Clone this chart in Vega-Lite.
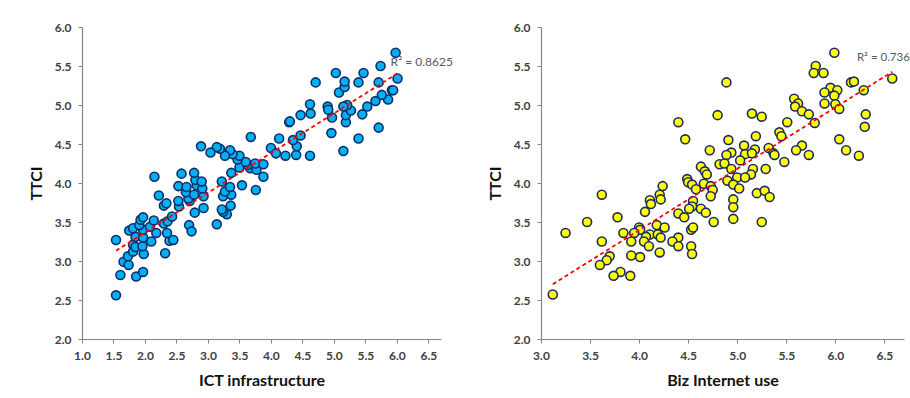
{
  "$schema": "https://vega.github.io/schema/vega-lite/v6.json",
  "padding": {"left": 28, "top": 21, "right": 0, "bottom": 0},
  "background": "white",
  "datasets": {
    "ict": [
      {"ict":1.54,"ttci":2.56},{"ict":1.61,"ttci":2.82},{"ict":1.86,"ttci":2.80},{"ict":1.97,"ttci":2.86},{"ict":1.66,"ttci":2.99},{"ict":1.74,"ttci":2.95},{"ict":1.73,"ttci":3.06},{"ict":1.81,"ttci":3.12},{"ict":1.98,"ttci":3.09},{"ict":2.32,"ttci":3.10},{"ict":1.81,"ttci":3.21},{"ict":1.85,"ttci":3.18},{"ict":1.96,"ttci":3.19},{"ict":1.54,"ttci":3.27},{"ict":2.10,"ttci":3.25},{"ict":2.39,"ttci":3.26},{"ict":2.45,"ttci":3.27},{"ict":1.85,"ttci":3.31},{"ict":1.97,"ttci":3.30},{"ict":1.75,"ttci":3.39},{"ict":1.81,"ttci":3.42},{"ict":1.97,"ttci":3.40},{"ict":2.18,"ttci":3.36},{"ict":2.35,"ttci":3.36},{"ict":1.91,"ttci":3.46},{"ict":2.08,"ttci":3.44},{"ict":1.93,"ttci":3.53},{"ict":1.97,"ttci":3.56},{"ict":2.14,"ttci":3.52},{"ict":2.30,"ttci":3.48},{"ict":2.36,"ttci":3.51},{"ict":2.43,"ttci":3.57},{"ict":2.70,"ttci":3.46},{"ict":2.74,"ttci":3.38},{"ict":3.14,"ttci":3.47},{"ict":3.30,"ttci":3.60},{"ict":3.24,"ttci":3.63},{"ict":2.79,"ttci":3.62},{"ict":3.22,"ttci":3.66},{"ict":2.93,"ttci":3.68},{"ict":3.36,"ttci":3.71},{"ict":2.54,"ttci":3.70},{"ict":2.30,"ttci":3.71},{"ict":2.34,"ttci":3.74},{"ict":2.53,"ttci":3.77},{"ict":2.71,"ttci":3.77},{"ict":2.69,"ttci":3.80},{"ict":2.22,"ttci":3.84},{"ict":2.65,"ttci":3.88},{"ict":2.78,"ttci":3.85},{"ict":2.93,"ttci":3.83},{"ict":3.24,"ttci":3.83},{"ict":3.37,"ttci":3.85},{"ict":3.27,"ttci":3.89},{"ict":3.76,"ttci":3.91},{"ict":2.53,"ttci":3.96},{"ict":2.66,"ttci":3.95},{"ict":2.82,"ttci":3.97},{"ict":2.91,"ttci":3.93},{"ict":3.54,"ttci":3.97},{"ict":3.35,"ttci":3.95},{"ict":2.80,"ttci":4.04},{"ict":2.90,"ttci":4.02},{"ict":3.22,"ttci":4.02},{"ict":2.15,"ttci":4.08},{"ict":2.58,"ttci":4.12},{"ict":2.78,"ttci":4.13},{"ict":3.37,"ttci":4.13},{"ict":3.88,"ttci":4.08},{"ict":3.50,"ttci":4.20},{"ict":3.67,"ttci":4.19},{"ict":3.77,"ttci":4.17},{"ict":3.63,"ttci":4.23},{"ict":3.75,"ttci":4.25},{"ict":3.88,"ttci":4.24},{"ict":3.60,"ttci":4.27},{"ict":3.47,"ttci":4.30},{"ict":3.50,"ttci":4.35},{"ict":3.39,"ttci":4.37},{"ict":3.35,"ttci":4.42},{"ict":3.27,"ttci":4.35},{"ict":3.19,"ttci":4.44},{"ict":3.14,"ttci":4.46},{"ict":3.04,"ttci":4.39},{"ict":2.89,"ttci":4.47},{"ict":4.00,"ttci":4.45},{"ict":4.08,"ttci":4.38},{"ict":4.23,"ttci":4.35},{"ict":4.40,"ttci":4.36},{"ict":4.62,"ttci":4.35},{"ict":4.41,"ttci":4.47},{"ict":4.35,"ttci":4.55},{"ict":4.13,"ttci":4.57},{"ict":3.68,"ttci":4.59},{"ict":4.47,"ttci":4.61},{"ict":5.15,"ttci":4.41},{"ict":5.39,"ttci":4.57},{"ict":4.96,"ttci":4.64},{"ict":5.71,"ttci":4.71},{"ict":4.29,"ttci":4.78},{"ict":4.30,"ttci":4.79},{"ict":5.19,"ttci":4.78},{"ict":4.47,"ttci":4.87},{"ict":4.63,"ttci":4.89},{"ict":4.97,"ttci":4.84},{"ict":5.45,"ttci":4.88},{"ict":5.19,"ttci":4.87},{"ict":5.27,"ttci":4.93},{"ict":5.21,"ttci":5.00},{"ict":5.15,"ttci":4.98},{"ict":4.90,"ttci":4.98},{"ict":4.91,"ttci":4.94},{"ict":4.62,"ttci":5.01},{"ict":5.53,"ttci":4.98},{"ict":5.66,"ttci":5.05},{"ict":5.86,"ttci":5.07},{"ict":5.76,"ttci":5.13},{"ict":5.92,"ttci":5.19},{"ict":5.94,"ttci":5.19},{"ict":5.08,"ttci":5.16},{"ict":5.17,"ttci":5.23},{"ict":5.71,"ttci":5.29},{"ict":5.39,"ttci":5.29},{"ict":5.17,"ttci":5.30},{"ict":4.71,"ttci":5.29},{"ict":5.47,"ttci":5.41},{"ict":5.03,"ttci":5.41},{"ict":6.01,"ttci":5.34},{"ict":5.74,"ttci":5.50},{"ict":5.98,"ttci":5.67}
    ],
    "biz": [
      {"biz":5.99,"ttci":5.67},{"biz":5.80,"ttci":5.50},{"biz":5.78,"ttci":5.41},{"biz":5.88,"ttci":5.41},{"biz":6.58,"ttci":5.34},{"biz":4.89,"ttci":5.29},{"biz":6.16,"ttci":5.29},{"biz":6.19,"ttci":5.30},{"biz":5.95,"ttci":5.22},{"biz":6.02,"ttci":5.19},{"biz":6.29,"ttci":5.19},{"biz":5.89,"ttci":5.16},{"biz":5.99,"ttci":5.12},{"biz":5.58,"ttci":5.08},{"biz":5.62,"ttci":5.02},{"biz":5.89,"ttci":5.02},{"biz":6.00,"ttci":5.01},{"biz":5.59,"ttci":4.98},{"biz":6.04,"ttci":4.95},{"biz":5.66,"ttci":4.92},{"biz":5.73,"ttci":4.88},{"biz":6.31,"ttci":4.88},{"biz":5.15,"ttci":4.89},{"biz":5.25,"ttci":4.85},{"biz":4.80,"ttci":4.87},{"biz":5.79,"ttci":4.77},{"biz":5.51,"ttci":4.78},{"biz":4.40,"ttci":4.78},{"biz":6.30,"ttci":4.72},{"biz":5.43,"ttci":4.65},{"biz":5.45,"ttci":4.60},{"biz":5.19,"ttci":4.60},{"biz":4.47,"ttci":4.56},{"biz":4.91,"ttci":4.55},{"biz":6.04,"ttci":4.56},{"biz":5.07,"ttci":4.48},{"biz":5.32,"ttci":4.45},{"biz":5.66,"ttci":4.48},{"biz":4.72,"ttci":4.42},{"biz":5.18,"ttci":4.43},{"biz":5.60,"ttci":4.42},{"biz":6.11,"ttci":4.42},{"biz":4.94,"ttci":4.39},{"biz":4.89,"ttci":4.36},{"biz":5.08,"ttci":4.37},{"biz":5.15,"ttci":4.38},{"biz":5.37,"ttci":4.38},{"biz":5.38,"ttci":4.36},{"biz":5.73,"ttci":4.36},{"biz":6.24,"ttci":4.35},{"biz":5.03,"ttci":4.29},{"biz":5.48,"ttci":4.27},{"biz":4.82,"ttci":4.24},{"biz":4.87,"ttci":4.25},{"biz":4.63,"ttci":4.21},{"biz":4.67,"ttci":4.15},{"biz":4.94,"ttci":4.18},{"biz":5.16,"ttci":4.18},{"biz":5.29,"ttci":4.18},{"biz":4.69,"ttci":4.11},{"biz":5.14,"ttci":4.11},{"biz":4.49,"ttci":4.05},{"biz":4.50,"ttci":4.01},{"biz":4.90,"ttci":4.03},{"biz":5.00,"ttci":4.07},{"biz":5.08,"ttci":4.07},{"biz":4.54,"ttci":3.98},{"biz":4.66,"ttci":3.99},{"biz":4.96,"ttci":3.98},{"biz":4.24,"ttci":3.96},{"biz":4.73,"ttci":3.96},{"biz":4.58,"ttci":3.92},{"biz":4.75,"ttci":3.91},{"biz":5.02,"ttci":3.93},{"biz":4.21,"ttci":3.85},{"biz":3.62,"ttci":3.85},{"biz":5.20,"ttci":3.87},{"biz":5.28,"ttci":3.90},{"biz":4.73,"ttci":3.83},{"biz":5.33,"ttci":3.82},{"biz":4.11,"ttci":3.78},{"biz":4.22,"ttci":3.79},{"biz":4.96,"ttci":3.79},{"biz":4.55,"ttci":3.77},{"biz":4.12,"ttci":3.73},{"biz":4.54,"ttci":3.70},{"biz":4.96,"ttci":3.69},{"biz":4.51,"ttci":3.67},{"biz":4.63,"ttci":3.67},{"biz":4.06,"ttci":3.63},{"biz":4.68,"ttci":3.62},{"biz":4.40,"ttci":3.61},{"biz":4.46,"ttci":3.56},{"biz":3.78,"ttci":3.56},{"biz":4.96,"ttci":3.54},{"biz":3.47,"ttci":3.50},{"biz":4.76,"ttci":3.50},{"biz":5.25,"ttci":3.50},{"biz":4.18,"ttci":3.46},{"biz":4.26,"ttci":3.43},{"biz":4.00,"ttci":3.43},{"biz":4.01,"ttci":3.40},{"biz":4.53,"ttci":3.40},{"biz":4.55,"ttci":3.43},{"biz":3.25,"ttci":3.36},{"biz":3.84,"ttci":3.36},{"biz":3.95,"ttci":3.36},{"biz":4.11,"ttci":3.34},{"biz":4.19,"ttci":3.34},{"biz":4.07,"ttci":3.31},{"biz":4.22,"ttci":3.30},{"biz":4.40,"ttci":3.30},{"biz":3.92,"ttci":3.25},{"biz":4.05,"ttci":3.25},{"biz":3.62,"ttci":3.25},{"biz":4.34,"ttci":3.25},{"biz":4.10,"ttci":3.19},{"biz":4.40,"ttci":3.19},{"biz":4.53,"ttci":3.19},{"biz":4.21,"ttci":3.11},{"biz":4.54,"ttci":3.09},{"biz":3.92,"ttci":3.07},{"biz":4.01,"ttci":3.05},{"biz":3.70,"ttci":3.06},{"biz":3.67,"ttci":3.01},{"biz":3.60,"ttci":2.95},{"biz":3.81,"ttci":2.86},{"biz":3.74,"ttci":2.81},{"biz":3.91,"ttci":2.81},{"biz":3.12,"ttci":2.57}
    ],
    "lab1": [{"ict": 5.9, "ttci": 5.55, "label": "R² = 0.8625"}],
    "lab2": [{"biz": 6.76, "ttci": 5.6, "label": "R² = 0.736"}]
  },
  "spacing": 100,
  "bounds": "flush",
  "hconcat": [
    {
      "width": 359,
      "height": 312,
      "encoding": {
        "x": {"field": "ict", "type": "quantitative", "scale": {"domain": [1, 6.7], "nice": false, "zero": false}, "axis": {"title": "ICT infrastructure", "values": [1, 1.5, 2, 2.5, 3, 3.5, 4, 4.5, 5, 5.5, 6, 6.5], "format": ".1f", "labelOverlap": false}},
        "y": {"field": "ttci", "type": "quantitative", "scale": {"domain": [2, 6], "nice": false, "zero": false}, "axis": {"title": "TTCI", "values": [2, 2.5, 3, 3.5, 4, 4.5, 5, 5.5, 6], "format": ".1f", "labelOverlap": false}}
      },
      "layer": [
        {
          "data": {"name": "ict"},
          "mark": {"type": "point", "shape": "circle", "filled": true, "fill": "#00B0F0", "stroke": "#0E2D6B", "strokeWidth": 1.6, "size": 80, "opacity": 1}
        },
        {
          "data": {"name": "ict"},
          "transform": [{"regression": "ttci", "on": "ict"}],
          "mark": {"type": "line", "color": "#FF0000", "strokeWidth": 1.8, "strokeDash": [4, 3]}
        },
        {
          "data": {"name": "lab1"},
          "mark": {"type": "text", "align": "left", "baseline": "middle", "font": "Lato", "fontSize": 12, "color": "#595959"},
          "encoding": {"text": {"field": "label"}}
        }
      ]
    },
    {
      "width": 363,
      "height": 312,
      "encoding": {
        "x": {"field": "biz", "type": "quantitative", "scale": {"domain": [3, 6.7], "nice": false, "zero": false}, "axis": {"title": "Biz Internet use", "values": [3, 3.5, 4, 4.5, 5, 5.5, 6, 6.5], "format": ".1f", "labelOverlap": false}},
        "y": {"field": "ttci", "type": "quantitative", "scale": {"domain": [2, 6], "nice": false, "zero": false}, "axis": {"title": "TTCI", "values": [2, 2.5, 3, 3.5, 4, 4.5, 5, 5.5, 6], "format": ".1f", "labelOverlap": false}}
      },
      "layer": [
        {
          "data": {"name": "biz"},
          "mark": {"type": "point", "shape": "circle", "filled": true, "fill": "#FFFF00", "stroke": "#1A2B5E", "strokeWidth": 1.6, "size": 80, "opacity": 1}
        },
        {
          "data": {"name": "biz"},
          "transform": [{"regression": "ttci", "on": "biz"}],
          "mark": {"type": "line", "color": "#FF0000", "strokeWidth": 1.8, "strokeDash": [4, 3]}
        },
        {
          "data": {"name": "lab2"},
          "mark": {"type": "text", "align": "right", "baseline": "middle", "font": "Lato", "fontSize": 11.5, "color": "#595959"},
          "encoding": {"text": {"field": "label"}}
        }
      ]
    }
  ],
  "resolve": {"scale": {"y": "independent"}},
  "config": {
    "view": {"stroke": null},
    "font": "Lato",
    "axis": {
      "grid": false,
      "domainColor": "#868686",
      "domainWidth": 1.2,
      "tickColor": "#868686",
      "tickSize": 4,
      "labelFont": "Lato",
      "labelFontSize": 12,
      "labelFontWeight": "bold",
      "labelColor": "#404040",
      "labelPadding": 7,
      "labelOverlap": false,
      "titleFont": "Lato",
      "titleFontSize": 16,
      "titleFontWeight": "bold",
      "titleColor": "#111111"
    },
    "axisX": {"titlePadding": 11, "labelFlush": false},
    "axisY": {"titlePadding": 10}
  }
}
